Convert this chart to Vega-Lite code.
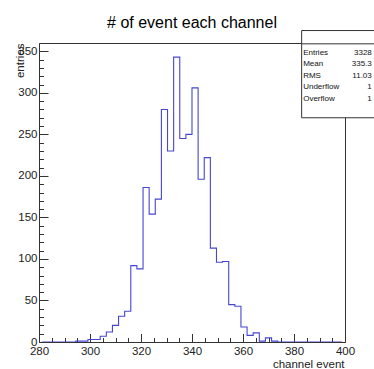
{
  "$schema": "https://vega.github.io/schema/vega-lite/v6.json",
  "width": 306,
  "height": 299,
  "autosize": "none",
  "padding": {"left": 39, "top": 43, "right": 29, "bottom": 27},
  "background": "white",
  "config": {
    "view": {"stroke": "#333", "strokeWidth": 1},
    "font": "Liberation Sans"
  },
  "title": {
    "text": "# of event each channel",
    "font": "Liberation Sans",
    "fontSize": 16,
    "fontWeight": "normal",
    "color": "#000",
    "anchor": "middle",
    "frame": "group",
    "baseline": "alphabetic",
    "offset": -14
  },
  "datasets": {
    "hist": [
      {"channel": 281.2, "entries": 0}, {"channel": 283.6, "entries": 0}, {"channel": 286.0, "entries": 0},
      {"channel": 288.4, "entries": 0}, {"channel": 290.8, "entries": 0}, {"channel": 293.2, "entries": 0},
      {"channel": 295.6, "entries": 1}, {"channel": 298.0, "entries": 1}, {"channel": 300.4, "entries": 3},
      {"channel": 302.8, "entries": 3}, {"channel": 305.2, "entries": 7}, {"channel": 307.6, "entries": 12},
      {"channel": 310.0, "entries": 20}, {"channel": 312.4, "entries": 31}, {"channel": 314.8, "entries": 37},
      {"channel": 317.2, "entries": 92}, {"channel": 319.6, "entries": 88}, {"channel": 322.0, "entries": 186},
      {"channel": 324.4, "entries": 154}, {"channel": 326.8, "entries": 172}, {"channel": 329.2, "entries": 280},
      {"channel": 331.6, "entries": 230}, {"channel": 334.0, "entries": 343}, {"channel": 336.4, "entries": 245},
      {"channel": 338.8, "entries": 250}, {"channel": 341.2, "entries": 306}, {"channel": 343.6, "entries": 196},
      {"channel": 346.0, "entries": 222}, {"channel": 348.4, "entries": 113}, {"channel": 350.8, "entries": 96},
      {"channel": 353.2, "entries": 97}, {"channel": 355.6, "entries": 45}, {"channel": 358.0, "entries": 43},
      {"channel": 360.4, "entries": 18}, {"channel": 362.8, "entries": 8}, {"channel": 365.2, "entries": 11},
      {"channel": 367.6, "entries": 1}, {"channel": 370.0, "entries": 5}, {"channel": 372.4, "entries": 1},
      {"channel": 374.8, "entries": 0}, {"channel": 377.2, "entries": 0}, {"channel": 379.6, "entries": 0},
      {"channel": 382.0, "entries": 0}, {"channel": 384.4, "entries": 0}, {"channel": 386.8, "entries": 0},
      {"channel": 389.2, "entries": 0}, {"channel": 391.6, "entries": 0}, {"channel": 394.0, "entries": 0},
      {"channel": 396.4, "entries": 0}, {"channel": 398.8, "entries": 0}
    ],
    "stats": [
      {"labels": ["Entries", "Mean", "RMS", "Underflow", "Overflow"], "values": ["3328", "335.3", "11.03", "1", "1"]}
    ]
  },
  "resolve": {"axis": {"x": "independent", "y": "independent"}},
  "layer": [
    {
      "data": {"name": "hist"},
      "mark": {"type": "line", "interpolate": "step", "color": "#4646d2", "strokeWidth": 1.1, "clip": true},
      "encoding": {
        "x": {
          "field": "channel", "type": "quantitative",
          "scale": {"domain": [280, 400], "nice": false, "zero": false},
          "axis": {
            "title": "channel event",
            "values": [280, 300, 320, 340, 360, 380, 400],
            "ticks": false, "grid": false, "domainColor": "#333",
            "labelFont": "Liberation Sans", "labelFontSize": 11.5, "labelColor": "#222",
            "labelFlush": false, "labelOverlap": false, "labelPadding": 3,
            "titleFont": "Liberation Sans", "titleFontSize": 11.5, "titleFontWeight": "normal", "titleColor": "#222",
            "titleAnchor": "end", "titleAlign": "right", "titleBaseline": "alphabetic", "titleX": 305, "titleY": 25
          }
        },
        "y": {
          "field": "entries", "type": "quantitative",
          "scale": {"domain": [0, 360], "nice": false, "zero": false},
          "axis": {
            "title": "entries",
            "values": [0, 50, 100, 150, 200, 250, 300, 350],
            "ticks": false, "grid": false, "domainColor": "#333",
            "labelFont": "Liberation Sans", "labelFontSize": 11.5, "labelColor": "#222",
            "labelFlush": false, "labelOverlap": false, "labelPadding": 2,
            "titleFont": "Liberation Sans", "titleFontSize": 11.5, "titleFontWeight": "normal", "titleColor": "#222",
            "titleAngle": -90, "titleAlign": "right", "titleBaseline": "alphabetic", "titleX": -16, "titleY": 0
          }
        }
      }
    },
    {
      "data": {"name": "hist"},
      "mark": {"type": "line", "interpolate": "step", "strokeOpacity": 0},
      "encoding": {
        "x": {
          "field": "channel", "type": "quantitative",
          "scale": {"domain": [280, 400], "nice": false, "zero": false},
          "axis": {
            "orient": "top", "offset": -299, "title": null, "labels": false, "domain": false, "grid": false,
            "values": [280, 300, 320, 340, 360, 380, 400],
            "ticks": true, "tickSize": 8.5, "tickColor": "#333", "tickWidth": 1
          }
        },
        "y": {
          "field": "entries", "type": "quantitative",
          "scale": {"domain": [0, 360], "nice": false, "zero": false},
          "axis": {
            "orient": "right", "offset": -306, "title": null, "labels": false, "domain": false, "grid": false,
            "values": [0, 50, 100, 150, 200, 250, 300, 350],
            "ticks": true, "tickSize": 9, "tickColor": "#333", "tickWidth": 1
          }
        }
      }
    },
    {
      "data": {"name": "hist"},
      "mark": {"type": "line", "interpolate": "step", "strokeOpacity": 0},
      "encoding": {
        "x": {
          "field": "channel", "type": "quantitative",
          "scale": {"domain": [280, 400], "nice": false, "zero": false},
          "axis": {
            "orient": "top", "offset": -299, "title": null, "labels": false, "domain": false, "grid": false,
            "values": [285, 290, 295, 305, 310, 315, 325, 330, 335, 345, 350, 355, 365, 370, 375, 385, 390, 395],
            "ticks": true, "tickSize": 4.5, "tickColor": "#333", "tickWidth": 1
          }
        },
        "y": {
          "field": "entries", "type": "quantitative",
          "scale": {"domain": [0, 360], "nice": false, "zero": false},
          "axis": {
            "orient": "right", "offset": -306, "title": null, "labels": false, "domain": false, "grid": false,
            "values": [10, 20, 30, 40, 60, 70, 80, 90, 110, 120, 130, 140, 160, 170, 180, 190, 210, 220, 230, 240, 260, 270, 280, 290, 310, 320, 330, 340],
            "ticks": true, "tickSize": 4.5, "tickColor": "#333", "tickWidth": 1
          }
        }
      }
    },
    {
      "data": {"values": [{"box": "stats"}]},
      "mark": {"type": "rect", "fill": "white", "stroke": "#333", "strokeWidth": 1},
      "encoding": {
        "x": {"datum": 383, "axis": null, "scale": {"domain": [280, 400], "nice": false, "zero": false}},
        "x2": {"datum": 425},
        "y": {"datum": 375, "axis": null, "scale": {"domain": [0, 360], "nice": false, "zero": false}},
        "y2": {"datum": 270}
      }
    },
    {
      "data": {"values": [{"box": "stats"}]},
      "mark": {"type": "rule", "stroke": "#333", "strokeWidth": 1},
      "encoding": {
        "x": {"datum": 383, "axis": null, "scale": {"domain": [280, 400], "nice": false, "zero": false}},
        "x2": {"datum": 425},
        "y": {"datum": 359, "axis": null, "scale": {"domain": [0, 360], "nice": false, "zero": false}}
      }
    },
    {
      "data": {"name": "stats"},
      "mark": {"type": "text", "align": "left", "baseline": "middle", "font": "Liberation Sans", "fontSize": 8, "lineHeight": 11.5, "color": "#111"},
      "encoding": {
        "x": {"datum": 383.6, "axis": null, "scale": {"domain": [280, 400], "nice": false, "zero": false}},
        "y": {"datum": 348.5, "axis": null, "scale": {"domain": [0, 360], "nice": false, "zero": false}},
        "text": {"field": "labels"}
      }
    },
    {
      "data": {"name": "stats"},
      "mark": {"type": "text", "align": "right", "baseline": "middle", "font": "Liberation Sans", "fontSize": 8, "lineHeight": 11.5, "color": "#111"},
      "encoding": {
        "x": {"datum": 410.5, "axis": null, "scale": {"domain": [280, 400], "nice": false, "zero": false}},
        "y": {"datum": 348.5, "axis": null, "scale": {"domain": [0, 360], "nice": false, "zero": false}},
        "text": {"field": "values"}
      }
    }
  ]
}
